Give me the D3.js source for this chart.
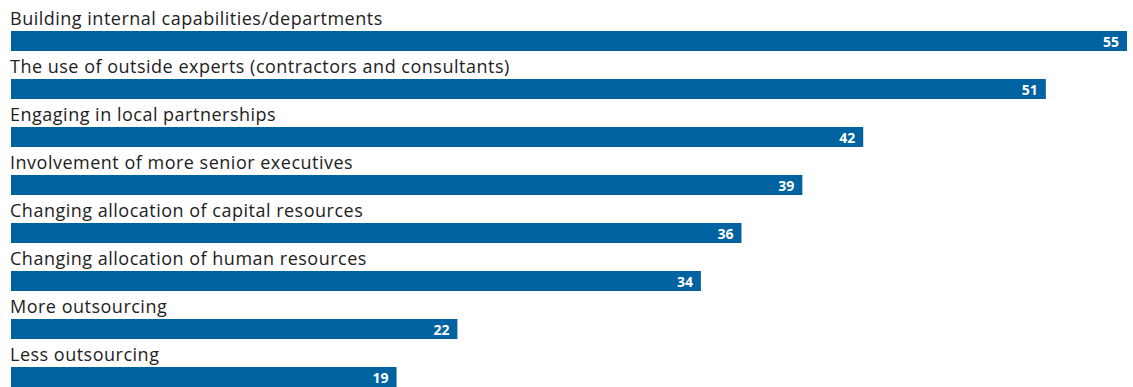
<!DOCTYPE html>
<html>
<head>
<meta charset="utf-8">
<script src="https://cdn.jsdelivr.net/npm/d3@7"></script>
<style>
  html, body { margin: 0; padding: 0; background: #fff; }
  svg { display: block; }
</style>
</head>
<body>
<svg id="chart" width="1133" height="387"></svg>
<script>
const categories = [
  "Building internal capabilities/departments",
  "The use of outside experts (contractors and consultants)",
  "Engaging in local partnerships",
  "Involvement of more senior executives",
  "Changing allocation of capital resources",
  "Changing allocation of human resources",
  "More outsourcing",
  "Less outsourcing"
];
const values = [55, 51, 42, 39, 36, 34, 22, 19];

const svg = d3.select("#chart");
const left = 11, right = 1127;
const barColor = "#0063a1";

const x = d3.scaleLinear().domain([0, 55]).range([left, right]);
const y = d3.scaleBand()
  .domain(categories)
  .range([0, 48 * categories.length])
  .paddingInner(0).paddingOuter(0);

const rows = svg.selectAll("g.row")
  .data(categories.map((c, i) => ({ c, v: values[i] })))
  .join("g")
  .attr("class", "row")
  .attr("transform", d => `translate(0,${y(d.c)})`);

rows.append("text")
  .attr("x", 10)
  .attr("y", 25)
  .attr("font-family", "'Open Sans', sans-serif")
  .attr("font-size", 18)
  .attr("letter-spacing", 0.5)
  .attr("fill", "#222")
  .text(d => d.c);

rows.append("rect")
  .attr("x", x(0))
  .attr("y", 31)
  .attr("width", d => x(d.v) - x(0))
  .attr("height", 20)
  .attr("fill", barColor);

rows.append("text")
  .attr("x", d => x(d.v) - 8)
  .attr("y", 46.5)
  .attr("text-anchor", "end")
  .attr("font-family", "'Open Sans', sans-serif")
  .attr("font-weight", "bold")
  .attr("font-size", 14)
  .attr("fill", "#fff")
  .text(d => d.v);
</script>
</body>
</html>
